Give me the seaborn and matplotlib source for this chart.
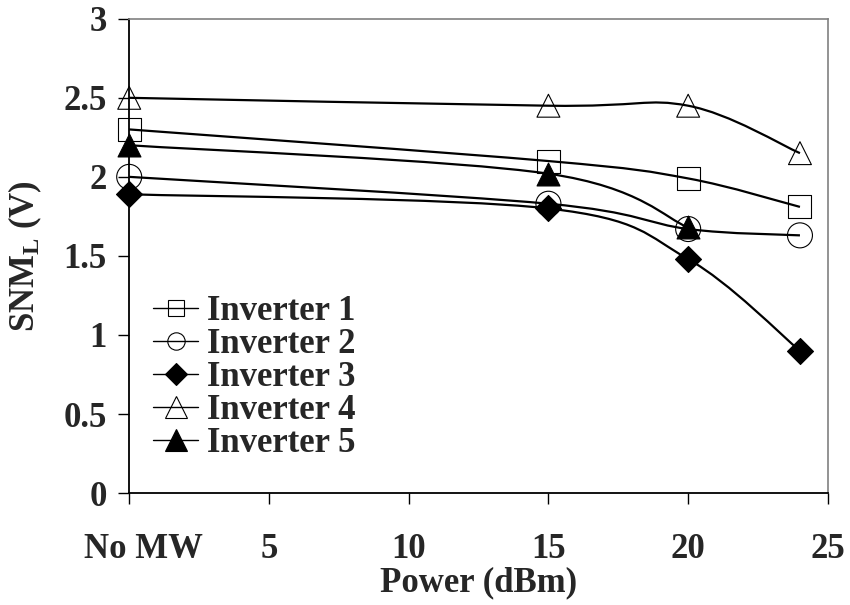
"""
SNM_L vs microwave power for five inverters (Excel-style smoothed lines)
"""

import numpy as np
import matplotlib
matplotlib.use("Agg")
import matplotlib.pyplot as plt
import matplotlib.transforms as mtransforms
from matplotlib.path import Path
from matplotlib.patches import PathPatch
from matplotlib.lines import Line2D
import seaborn as sns

# data
power = [0, 15, 20, 24]
power_inv5 = [0, 15, 20]
inv1 = [2.30, 2.10, 1.99, 1.81]
inv2 = [2.00, 1.83, 1.67, 1.63]
inv3 = [1.89, 1.80, 1.48, 0.90]
inv4 = [2.50, 2.45, 2.45, 2.15]
inv5 = [2.20, 2.02, 1.68]

names = ['Inverter 1', 'Inverter 2', 'Inverter 3', 'Inverter 4', 'Inverter 5']
xticks = [0, 5, 10, 15, 20, 25]
xtick_labels = ['No MW', '5', '10', '15', '20', '25']
yticks = [0, 0.5, 1, 1.5, 2, 2.5, 3]
ytick_labels = ['0', '0.5', '1', '1.5', '2', '2.5', '3']

sns.set_theme(style='white')
plt.rcParams['font.family'] = ['Liberation Serif', 'DejaVu Serif']
plt.rcParams['font.weight'] = 'bold'
plt.rcParams['axes.labelweight'] = 'bold'
plt.rcParams['mathtext.fontset'] = 'custom'
plt.rcParams['mathtext.rm'] = 'Liberation Serif:bold'
plt.rcParams['mathtext.bf'] = 'Liberation Serif:bold'
plt.rcParams['mathtext.it'] = 'Liberation Serif:bold:italic'

FS = 25


def smooth_path(xs, ys):
    """Bezier path through the points, like Excel's smoothed line"""
    pts = np.column_stack([xs, ys]).astype(float)
    n = len(pts)
    verts = [pts[0]]
    codes = [Path.MOVETO]
    for i in range(n - 1):
        p_prev = pts[i - 1] if i > 0 else pts[i]
        p_next = pts[i + 2] if i + 2 < n else pts[i + 1]
        c1 = pts[i] + (pts[i + 1] - p_prev) / 6
        c2 = pts[i + 1] - (p_next - pts[i]) / 6
        verts += [c1, c2, pts[i + 1]]
        codes += [Path.CURVE4] * 3
    return Path(verts, codes)


# x, y, marker, fill, scatter size, legend marker size
series = [
    (power, inv1, 's', 'none', 272, 12),
    (power, inv2, 'o', 'none', 324, 12.5),
    (power, inv3, 'D', 'black', 175, 11),
    (power, inv4, '^', 'none', 272, 16),
    (power_inv5, inv5, '^', 'black', 272, 16),
]

fig = plt.figure(figsize=(8.5, 6.05), dpi=100)
ax = fig.add_axes([0.152, 0.185, 0.822, 0.784])

for xs, ys, mk, fc, s, _ in series:
    ax.add_patch(PathPatch(smooth_path(xs, ys), facecolor='none',
                           edgecolor='black', lw=1.6, zorder=2))
    sns.scatterplot(x=xs, y=ys, marker=mk, s=s, facecolor=fc,
                    edgecolor='black', linewidth=0.8, ax=ax,
                    clip_on=False, zorder=3, legend=False)

ax.set_xlim(0, 25)
ax.set_ylim(0, 3)
ax.set_xticks(xticks)
ax.set_xticklabels(xtick_labels)
ax.set_yticks(yticks)
ax.set_yticklabels(ytick_labels)
ax.tick_params(axis='both', labelsize=FS, direction='out', length=8,
               width=1, color='black', bottom=True, left=True)
ax.tick_params(axis='x', pad=21)
ax.tick_params(axis='y', pad=8)

# "No MW" sits a little right of its tick in the reference
shift = mtransforms.ScaledTranslation(14 / 100, 0, fig.dpi_scale_trans)
first = ax.get_xticklabels()[0]
first.set_transform(first.get_transform() + shift)

for side in ['left', 'bottom']:
    ax.spines[side].set_color('black')
    ax.spines[side].set_linewidth(1.3)
for side in ['top', 'right']:
    ax.spines[side].set_color('#808080')
    ax.spines[side].set_linewidth(1.2)

ax.set_xlabel('Power (dBm)', fontsize=FS, labelpad=0)
ax.set_ylabel(r'SNM$_\mathrm{L}$ (V)', fontsize=FS, labelpad=14)

handles = []
for xs, ys, mk, fc, s, ms in series:
    handles.append(Line2D([], [], color='black', lw=1.0, marker=mk,
                          markerfacecolor=fc, markeredgecolor='black',
                          markeredgewidth=0.8, markersize=ms))
ax.legend(handles, names, loc='upper left', bbox_to_anchor=(0.034, 0.418),
          frameon=False, fontsize=FS, labelspacing=0.0, handlelength=1.3,
          handletextpad=0.25, borderpad=0, borderaxespad=0)

plt.savefig('out.png', dpi=100)
plt.close()
